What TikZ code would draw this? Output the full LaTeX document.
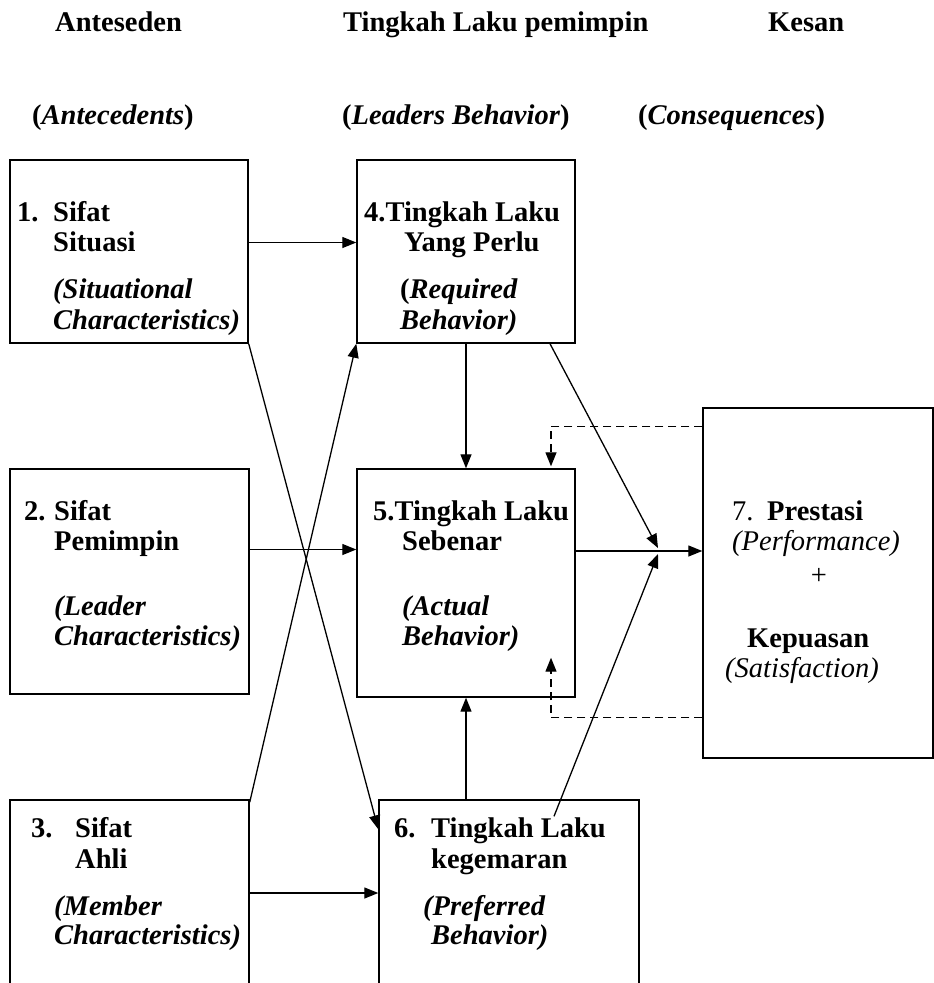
\documentclass[tikz,border=0pt]{standalone}
\usepackage{fontspec}
\setmainfont{Liberation Serif}
\usetikzlibrary{arrows.meta}

\tikzset{
  box/.style={draw, line width=1.4pt, inner sep=0pt},
  txt/.style={anchor=base west, inner sep=0pt, font=\fontsize{28.5}{31}\selectfont\bfseries},
  plain/.style={anchor=base west, inner sep=0pt, font=\fontsize{28.5}{31}\selectfont},
  arr/.style={-{Triangle[length=14pt,width=11pt]}, line width=1.3pt},
  dasharr/.style={arr, dash pattern=on 8pt off 5pt}
}

\begin{document}
\begin{tikzpicture}[x=1pt,y=-1pt]
    \useasboundingbox (0,0) rectangle (934,983);
    \clip (0,0) rectangle (934,983);

    % column heads
    \node[txt] (hant) at (55,31) {Anteseden};
    \node[txt] (hbeh) at (343,31) {Tingkah Laku pemimpin};
    \node[txt] (hkes) at (768,31) {Kesan};
    \node[txt] (hanten) at (32,124) {(\textit{Antecedents})};
    \node[txt] (hbehen) at (342,124) {(\textit{Leaders Behavior})};
    \node[txt] (hkesen) at (638,124) {(\textit{Consequences})};

    % boxes
    \node[box, minimum width=238pt, minimum height=183pt] (b1) at (129,251.5) {};
    \node[box, minimum width=218pt, minimum height=183pt] (b4) at (466,251.5) {};
    \node[box, minimum width=239pt, minimum height=225pt] (b2) at (129.5,581.5) {};
    \node[box, minimum width=218pt, minimum height=228pt] (b5) at (466,583) {};
    \node[box, minimum width=239pt, minimum height=210pt] (b3) at (129.5,905) {};
    \node[box, minimum width=260pt, minimum height=210pt] (b6) at (509,905) {};
    \node[box, minimum width=230pt, minimum height=350pt] (b7) at (818,583) {};

    % box 1
    \node[txt] (n1) at (17,221) {1.};
    \node[txt] (s1a) at (53,221) {Sifat};
    \node[txt] (s1b) at (53,251) {Situasi};
    \node[txt] (s1c) at (53,298) {\textit{(Situational}};
    \node[txt] (s1d) at (53,329) {\textit{Characteristics)}};

    % box 4
    \node[txt] (s4a) at (364,221) {4.Tingkah Laku};
    \node[txt] (s4b) at (404,251) {Yang Perlu};
    \node[txt] (s4c) at (400,298) {(\textit{Required}};
    \node[txt] (s4d) at (400,329) {\textit{Behavior)}};

    % box 2
    \node[txt] (n2) at (24,520) {2.};
    \node[txt] (s2a) at (54,520) {Sifat};
    \node[txt] (s2b) at (54,550) {Pemimpin};
    \node[txt] (s2c) at (54,615) {\textit{(Leader}};
    \node[txt] (s2d) at (54,645) {\textit{Characteristics)}};

    % box 5
    \node[txt] (s5a) at (373,520) {5.Tingkah Laku};
    \node[txt] (s5b) at (402,550) {Sebenar};
    \node[txt] (s5c) at (402,615) {\textit{(Actual}};
    \node[txt] (s5d) at (402,645) {\textit{Behavior)}};

    % box 3
    \node[txt] (n3) at (31,837) {3.};
    \node[txt] (s3a) at (75,837) {Sifat};
    \node[txt] (s3b) at (75,868) {Ahli};
    \node[txt] (s3c) at (54,915) {\textit{(Member}};
    \node[txt] (s3d) at (54,944) {\textit{Characteristics)}};

    % box 6
    \node[txt] (n6) at (394,837) {6.};
    \node[txt] (s6a) at (431,837) {Tingkah Laku};
    \node[txt] (s6b) at (431,868) {kegemaran};
    \node[txt] (s6c) at (423,915) {\textit{(Preferred}};
    \node[txt] (s6d) at (431,944) {\textit{Behavior)}};

    % box 7
    \node[plain] (n7) at (732,520) {7.};
    \node[txt] (s7a) at (767,520) {Prestasi};
    \node[plain] (s7b) at (732,550) {\textit{(Performance)}};
    \node[plain, anchor=base] (plus) at (819,584) {+};
    \node[txt] (s7c) at (747,647) {Kepuasan};
    \node[plain] (s7d) at (725,677) {\textit{(Satisfaction)}};

    % connectors
    \coordinate (j) at (658,551);
    \coordinate (p6) at ([xshift=45pt,yshift=-17pt]b6.north);

    \draw[arr] ([yshift=9pt]b1.east) -- ([yshift=9pt]b4.west);
    \draw[arr] ([yshift=32pt]b2.east) -- ([yshift=33.5pt]b5.west);
    \draw[arr] ([yshift=12pt]b3.east) -- ([yshift=12pt]b6.west);
    \draw[arr] (b4.south) -- (b4.south |- b5.north);
    \draw[arr] (b5.south |- b6.north) -- (b5.south);
    \draw[arr] (b1.south east) -- ([yshift=-30pt]b6.north west);
    \draw[arr] ([yshift=-3pt]b3.north east) -- (b4.south west);
    \draw[arr] ([xshift=84pt]b4.south) -- ([yshift=3pt]j);
    \draw[arr] (p6) -- ([yshift=-3pt]j);
    \draw[arr] ([yshift=32pt]b5.east) -- ([yshift=32pt]b7.west);
    \draw[dasharr] ([yshift=-19pt]b7.north west) -| ([xshift=85pt,yshift=2pt]b5.north);
    \draw[dasharr] ([yshift=41pt]b7.south west) -| ([xshift=85pt,yshift=40pt]b5.south);
\end{tikzpicture}
\end{document}
